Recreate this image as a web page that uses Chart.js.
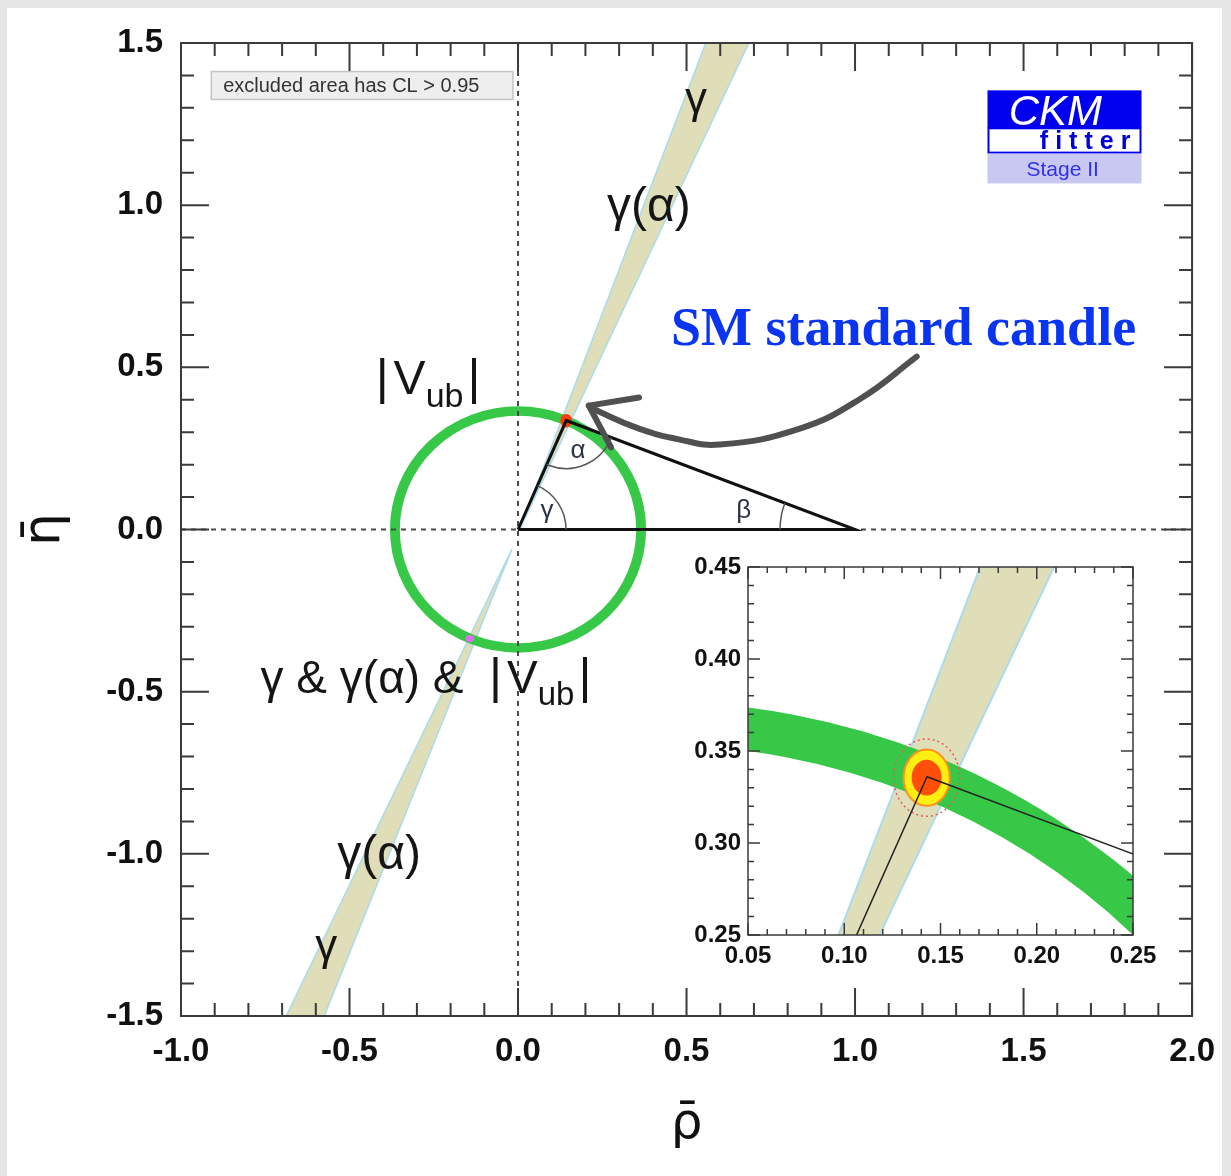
<!DOCTYPE html>
<html><head><meta charset="utf-8">
<script src="https://cdn.jsdelivr.net/npm/chart.js@4.4.1/dist/chart.umd.min.js"></script>
<style>
html,body{margin:0;padding:0;background:#fff;}
#wrap{position:relative;width:1231px;height:1176px;overflow:hidden;}
#main{position:absolute;left:0;top:0;}
#inset{position:absolute;left:680px;top:545px;}
</style></head><body>
<div id="wrap"><canvas id="main" width="1231" height="1176"></canvas><canvas id="inset" width="500" height="440"></canvas></div>
<script>
// ---------------- data ----------------
const rhoTicks = [-1.0, -0.5, 0.0, 0.5, 1.0, 1.5, 2.0];
const etaTicks = [-1.5, -1.0, -0.5, 0.0, 0.5, 1.0, 1.5];
const insetRhoTicks = [0.05, 0.10, 0.15, 0.20, 0.25];
const insetEtaTicks = [0.25, 0.30, 0.35, 0.40, 0.45];

// gamma constraint bands (polygon vertices)
const gammaUpperRho = [0.005, 0.557, 0.685, 0.005];
const gammaUpperEta = [0.000, 1.500, 1.500, 0.000];
const gammaLowerRho = [-0.018, -0.688, -0.575, -0.018];
const gammaLowerEta = [-0.060, -1.500, -1.500, -0.060];

// |Vub| ring: centre and inner/outer radius
const vubCenter = [0.0, 0.0];
const vubRadii = [0.3536, 0.377];

// unitarity triangle
const triangleRho = [0.0, 1.0, 0.143, 0.0];
const triangleEta = [0.0, 0.0, 0.336, 0.0];

// global fit (apex) and its mirror solution
const fitCenter = [0.1428, 0.3355];
const cl68Radii = [0.0078, 0.0097];
const cl95Radii = [0.0120, 0.0153];
const cl99Radii = [0.0172, 0.0210];
const mirrorPoint = [-0.143, -0.336];

// hand drawn arrow
const arrowRho = [1.183, 1.017, 0.836, 0.599, 0.477, 0.359, 0.240, 0.210];
const arrowEta = [0.533, 0.404, 0.311, 0.262, 0.278, 0.311, 0.364, 0.382];
const arrowHeadRho = [0.359, 0.210, 0.276];
const arrowHeadEta = [0.407, 0.382, 0.253];

// ---------------- helpers ----------------
const pts = (xs, ys) => xs.map((v, i) => ({x: v, y: ys[i]}));
const SANS = '"Liberation Sans", Arial, sans-serif';
const BAND_FILL = 'rgb(223,222,184)';
const BAND_EDGE = '#a8dcee';
const GREEN = '#38c848';

function P(chart, x, y) {
  return [chart.scales.x.getPixelForValue(x), chart.scales.y.getPixelForValue(y)];
}
function clipArea(chart) {
  const a = chart.chartArea, ctx = chart.ctx;
  ctx.beginPath(); ctx.rect(a.left, a.top, a.right - a.left, a.bottom - a.top); ctx.clip();
}
function drawRing(chart, edge) {
  const ctx = chart.ctx, {x, y} = chart.scales;
  const cx = x.getPixelForValue(vubCenter[0]), cy = y.getPixelForValue(vubCenter[1]);
  const rxo = x.getPixelForValue(vubCenter[0] + vubRadii[1]) - cx, ryo = cy - y.getPixelForValue(vubCenter[1] + vubRadii[1]);
  const rxi = x.getPixelForValue(vubCenter[0] + vubRadii[0]) - cx, ryi = cy - y.getPixelForValue(vubCenter[1] + vubRadii[0]);
  ctx.save(); clipArea(chart);
  ctx.beginPath();
  ctx.ellipse(cx, cy, rxo, ryo, 0, 0, 2 * Math.PI);
  ctx.moveTo(cx + rxi, cy);
  ctx.ellipse(cx, cy, rxi, ryi, 0, 0, 2 * Math.PI, true);
  ctx.fillStyle = GREEN; ctx.fill('evenodd');
  if (edge) { ctx.strokeStyle = GREEN; ctx.lineWidth = edge; ctx.stroke(); }
  ctx.restore();
}
function ellipsePath(chart, c, r) {
  const {x, y} = chart.scales;
  const cx = x.getPixelForValue(c[0]), cy = y.getPixelForValue(c[1]);
  const rx = Math.abs(x.getPixelForValue(c[0] + r[0]) - cx), ry = Math.abs(y.getPixelForValue(c[1] + r[1]) - cy);
  chart.ctx.beginPath(); chart.ctx.ellipse(cx, cy, rx, ry, 0, 0, 2 * Math.PI);
}
function drawFrame(chart, o) {
  const ctx = chart.ctx, a = chart.chartArea, {x, y} = chart.scales;
  ctx.save();
  ctx.strokeStyle = o.color; ctx.lineWidth = o.width; ctx.lineCap = 'butt';
  const doAxis = (min, max, minor, major, horiz) => {
    const n = Math.round((max - min) / minor);
    for (let i = 0; i <= n; i++) {
      const v = min + i * minor;
      const isMajor = Math.abs(v / major - Math.round(v / major)) < 1e-6;
      const L = isMajor ? o.major : o.minor;
      ctx.beginPath();
      if (horiz) {
        const p = x.getPixelForValue(v);
        ctx.moveTo(p, a.bottom); ctx.lineTo(p, a.bottom - L);
        ctx.moveTo(p, a.top); ctx.lineTo(p, a.top + L);
      } else {
        const p = y.getPixelForValue(v);
        ctx.moveTo(a.left, p); ctx.lineTo(a.left + L, p);
        ctx.moveTo(a.right, p); ctx.lineTo(a.right - L, p);
      }
      ctx.stroke();
    }
  };
  doAxis(x.min, x.max, o.xMinor, o.xMajor, true);
  doAxis(y.min, y.max, o.yMinor, o.yMajor, false);
  ctx.strokeRect(a.left, a.top, a.right - a.left, a.bottom - a.top);
  ctx.restore();
}
function angleArc(ctx, V, A, B, r) {
  const a1 = Math.atan2(A[1] - V[1], A[0] - V[0]);
  const a2 = Math.atan2(B[1] - V[1], B[0] - V[0]);
  let d = a2 - a1; while (d > Math.PI) d -= 2 * Math.PI; while (d <= -Math.PI) d += 2 * Math.PI;
  ctx.beginPath();
  if (d > 0) ctx.arc(V[0], V[1], r, a1, a2); else ctx.arc(V[0], V[1], r, a2, a1);
  ctx.stroke();
}
function drawRich(ctx, cx, by, parts, color) {
  let total = 0;
  const w = parts.map(p => { ctx.font = p[1] + 'px ' + SANS; const m = ctx.measureText(p[0]).width + (p[3] || 0); total += m; return m; });
  let xx = cx - total / 2;
  ctx.fillStyle = color; ctx.textBaseline = 'alphabetic'; ctx.textAlign = 'left';
  parts.forEach((p, i) => { ctx.font = p[1] + 'px ' + SANS; ctx.fillText(p[0], xx, by + p[2]); xx += w[i]; });
}

// annotation placements (data coordinates of text baselines); parts: [text, size, dy, extra gap]
const mainLabels = [
  {at: [0.528, 1.283], parts: [['γ', 44, 0]]},
  {at: [0.388, 0.950], parts: [['γ(α)', 48, 0]]},
  {at: [-0.267, 0.419], parts: [['|', 50, 0, 5], ['V', 48, 0], ['ub', 34, 13, 4], ['|', 50, 0]]},
  {at: [-0.273, -0.503], parts: [['γ & γ(α) &  ', 46, 0], ['|', 50, 0, 5], ['V', 46, 0], ['ub', 33, 12, 4], ['|', 50, 0]]},
  {at: [-0.412, -1.048], parts: [['γ(α)', 48, 0]]},
  {at: [-0.569, -1.326], parts: [['γ', 44, 0]]}
];
const angleLabels = [
  {at: [0.086, 0.034], t: 'γ'},
  {at: [0.178, 0.219], t: 'α'},
  {at: [0.670, 0.034], t: 'β'}
];

// ---------------- main chart ----------------
const mainPlugin = {
  id: 'mainDeco',
  beforeDraw(chart) {
    const ctx = chart.ctx;
    ctx.save();
    ctx.fillStyle = '#e6e6e6'; ctx.fillRect(0, 0, chart.width, chart.height);
    ctx.fillStyle = '#ffffff'; ctx.fillRect(7, 8, 1215, chart.height - 8);
    ctx.restore();
  },
  afterDatasetDraw(chart, args) {
    const ctx = chart.ctx;
    if (args.index === 1) drawRing(chart, 2);
    if (args.index === 3) {
      ctx.save(); clipArea(chart);
      ellipsePath(chart, fitCenter, cl99Radii); ctx.fillStyle = '#ff3a12'; ctx.fill();
      ellipsePath(chart, mirrorPoint, [0.013, 0.011]); ctx.fillStyle = '#dd70ee'; ctx.fill();
      ctx.restore();
    }
    if (args.index === 4) {
      const O = P(chart, triangleRho[0], triangleEta[0]);
      const B = P(chart, triangleRho[1], triangleEta[1]);
      const A = P(chart, triangleRho[2], triangleEta[2]);
      ctx.save(); ctx.strokeStyle = '#555'; ctx.lineWidth = 1.5;
      angleArc(ctx, O, B, A, 48);
      angleArc(ctx, A, O, B, 48);
      angleArc(ctx, B, O, A, 75);
      ctx.restore();
    }
  },
  afterDatasetsDraw(chart) {
    const ctx = chart.ctx;
    ctx.save();
    mainLabels.forEach(l => { const p = P(chart, l.at[0], l.at[1]); drawRich(ctx, p[0], p[1], l.parts, '#151515'); });
    ctx.font = '26px ' + SANS; ctx.fillStyle = '#2c3448'; ctx.textAlign = 'center'; ctx.textBaseline = 'alphabetic';
    angleLabels.forEach(l => { const p = P(chart, l.at[0], l.at[1]); ctx.fillText(l.t, p[0], p[1]); });
    // SM standard candle
    let p = P(chart, 1.144, 0.570);
    ctx.font = 'bold 54px "Liberation Serif", "Times New Roman", serif'; ctx.fillStyle = '#0a35f0';
    ctx.fillText('SM standard candle', p[0], p[1]);
    // excluded area box
    const b1 = P(chart, -0.910, 1.412), b2 = P(chart, -0.015, 1.326);
    ctx.fillStyle = '#eeeeee'; ctx.fillRect(b1[0], b1[1], b2[0] - b1[0], b2[1] - b1[1]);
    ctx.strokeStyle = '#c4c4c4'; ctx.lineWidth = 1.5; ctx.strokeRect(b1[0], b1[1], b2[0] - b1[0], b2[1] - b1[1]);
    p = P(chart, -0.875, 1.348);
    ctx.font = '20px ' + SANS; ctx.fillStyle = '#333'; ctx.textAlign = 'left';
    ctx.fillText('excluded area has CL > 0.95', p[0], p[1]);
    // CKMfitter logo
    const l1 = P(chart, 1.393, 1.354), l2 = P(chart, 1.850, 1.237), l3 = P(chart, 1.850, 1.162), l4 = P(chart, 1.393, 1.159), l5 = P(chart, 1.850, 1.067);
    ctx.fillStyle = '#0000ee'; ctx.fillRect(l1[0], l1[1], l2[0] - l1[0], l2[1] - l1[1]);
    ctx.fillStyle = '#ffffff'; ctx.fillRect(l1[0], l2[1], l2[0] - l1[0], l3[1] - l2[1]);
    ctx.strokeStyle = '#0000ee'; ctx.lineWidth = 2; ctx.strokeRect(l1[0] + 1, l2[1], l2[0] - l1[0] - 2, l3[1] - l2[1]);
    ctx.fillStyle = '#c8c8f2'; ctx.fillRect(l4[0], l4[1], l5[0] - l4[0], l5[1] - l4[1]);
    p = P(chart, 1.456, 1.246);
    ctx.font = 'italic 42px ' + SANS; ctx.fillStyle = '#ffffff'; ctx.textAlign = 'left';
    ctx.fillText('CKM', p[0], p[1]);
    p = P(chart, 1.817, 1.172);
    ctx.font = 'bold 25px ' + SANS; ctx.fillStyle = '#0000dd'; ctx.textAlign = 'right';
    ctx.letterSpacing = '7px'; ctx.fillText('fitter', p[0] + 7, p[1]); ctx.letterSpacing = '0px';
    p = P(chart, 1.616, 1.089);
    ctx.font = '21px ' + SANS; ctx.fillStyle = '#3030f0'; ctx.textAlign = 'center';
    ctx.fillText('Stage II', p[0], p[1]);
    ctx.restore();
  },
  afterDraw(chart) {
    drawFrame(chart, {color: '#3a3a3a', width: 2, major: 28, minor: 13, xMinor: 0.1, xMajor: 0.5, yMinor: 0.1, yMajor: 0.5});
  }
};

const lineDefaults = {showLine: true, pointRadius: 0, pointHoverRadius: 0, tension: 0, fill: false};

new Chart(document.getElementById('main'), {
  type: 'scatter',
  data: {
    datasets: [
      Object.assign({}, lineDefaults, {data: pts(gammaUpperRho, gammaUpperEta), backgroundColor: BAND_FILL, borderColor: BAND_EDGE, borderWidth: 1.5, fill: 'shape', order: 10}),
      Object.assign({}, lineDefaults, {data: pts(gammaLowerRho, gammaLowerEta), backgroundColor: BAND_FILL, borderColor: BAND_EDGE, borderWidth: 1.5, fill: 'shape', order: 9}),
      Object.assign({}, lineDefaults, {data: pts([0, 0], [etaTicks[0], etaTicks[etaTicks.length - 1]]), borderColor: '#4a4a4a', borderWidth: 2, borderDash: [5, 5], order: 8}),
      Object.assign({}, lineDefaults, {data: pts([rhoTicks[0], rhoTicks[rhoTicks.length - 1]], [0, 0]), borderColor: '#4a4a4a', borderWidth: 2, borderDash: [5, 5], order: 7}),
      Object.assign({}, lineDefaults, {data: pts(triangleRho, triangleEta), borderColor: '#111', borderWidth: 3, order: 6}),
      Object.assign({}, lineDefaults, {data: pts(arrowRho, arrowEta), borderColor: '#505050', borderWidth: 6, tension: 0.45, borderCapStyle: 'round', order: 5}),
      Object.assign({}, lineDefaults, {data: pts(arrowHeadRho, arrowHeadEta), borderColor: '#505050', borderWidth: 6, borderCapStyle: 'round', borderJoinStyle: 'round', order: 4})
    ]
  },
  options: {
    responsive: false, animation: false, devicePixelRatio: 1,
    layout: {padding: {left: 0, right: 38, top: 43, bottom: 0}},
    plugins: {legend: {display: false}, tooltip: {enabled: false}},
    scales: {
      x: {
        type: 'linear', position: 'bottom', min: -1, max: 2,
        afterBuildTicks: s => { s.ticks = rhoTicks.map(v => ({value: v})); },
        afterFit: s => { s.height = 160; },
        grid: {display: false, drawTicks: false}, border: {display: false},
        ticks: {font: {family: SANS, size: 33, weight: 'bold'}, color: '#111', padding: 16, callback: v => Number(v).toFixed(1)},
        title: {display: true, text: 'ρ̄', font: {family: '"DejaVu Sans", sans-serif', size: 50}, color: '#111', padding: {top: 0, bottom: 21}}
      },
      y: {
        type: 'linear', position: 'left', min: -1.5, max: 1.5,
        afterBuildTicks: s => { s.ticks = etaTicks.map(v => ({value: v})); },
        afterFit: s => { s.width = 181; },
        grid: {display: false, drawTicks: false}, border: {display: false},
        ticks: {font: {family: SANS, size: 33, weight: 'bold'}, color: '#111', padding: 18, callback: v => Number(v).toFixed(1)},
        title: {display: true, text: 'η̄', font: {family: '"DejaVu Sans", sans-serif', size: 52}, color: '#111', padding: {top: 14, bottom: 0}}
      }
    }
  },
  plugins: [mainPlugin]
});

// ---------------- inset chart ----------------
const insetPlugin = {
  id: 'insetDeco',
  beforeDatasetsDraw(chart) {
    const a = chart.chartArea, ctx = chart.ctx;
    ctx.save(); ctx.fillStyle = '#fff'; ctx.fillRect(a.left, a.top, a.right - a.left, a.bottom - a.top); ctx.restore();
  },
  afterDatasetDraw(chart, args) {
    if (args.index !== 0) return;
    const ctx = chart.ctx;
    drawRing(chart, 0);
    ctx.save(); clipArea(chart);
    ellipsePath(chart, fitCenter, cl99Radii);
    ctx.setLineDash([2, 3]); ctx.strokeStyle = '#e85a5a'; ctx.lineWidth = 1.5; ctx.stroke();
    ctx.setLineDash([]);
    ellipsePath(chart, fitCenter, cl95Radii);
    ctx.fillStyle = '#ffee11'; ctx.fill(); ctx.strokeStyle = '#ff9020'; ctx.lineWidth = 2; ctx.stroke();
    ellipsePath(chart, fitCenter, cl68Radii);
    ctx.fillStyle = '#ff4d0a'; ctx.fill();
    ctx.restore();
  },
  afterDraw(chart) {
    drawFrame(chart, {color: '#3a3a3a', width: 1.5, major: 12, minor: 6, xMinor: 0.01, xMajor: 0.05, yMinor: 0.01, yMajor: 0.05});
  }
};

new Chart(document.getElementById('inset'), {
  type: 'scatter',
  data: {
    datasets: [
      Object.assign({}, lineDefaults, {data: pts(gammaUpperRho, gammaUpperEta), backgroundColor: BAND_FILL, borderColor: BAND_EDGE, borderWidth: 2, fill: 'shape', order: 10}),
      Object.assign({}, lineDefaults, {data: pts(triangleRho, triangleEta), borderColor: '#222', borderWidth: 1.5, order: 5})
    ]
  },
  options: {
    responsive: false, animation: false, devicePixelRatio: 1,
    layout: {padding: {left: 0, right: 47, top: 22, bottom: 0}},
    plugins: {legend: {display: false}, tooltip: {enabled: false}},
    scales: {
      x: {
        type: 'linear', position: 'bottom', min: 0.05, max: 0.25,
        afterBuildTicks: s => { s.ticks = insetRhoTicks.map(v => ({value: v})); },
        afterFit: s => { s.height = 50; },
        grid: {display: false, drawTicks: false}, border: {display: false},
        ticks: {font: {family: SANS, size: 24, weight: 'bold'}, color: '#111', padding: 7, callback: v => Number(v).toFixed(2)}
      },
      y: {
        type: 'linear', position: 'left', min: 0.25, max: 0.45,
        afterBuildTicks: s => { s.ticks = insetEtaTicks.map(v => ({value: v})); },
        afterFit: s => { s.width = 68; },
        grid: {display: false, drawTicks: false}, border: {display: false},
        ticks: {font: {family: SANS, size: 24, weight: 'bold'}, color: '#111', padding: 7, callback: v => Number(v).toFixed(2)}
      }
    }
  },
  plugins: [insetPlugin]
});
</script>
</body></html>
